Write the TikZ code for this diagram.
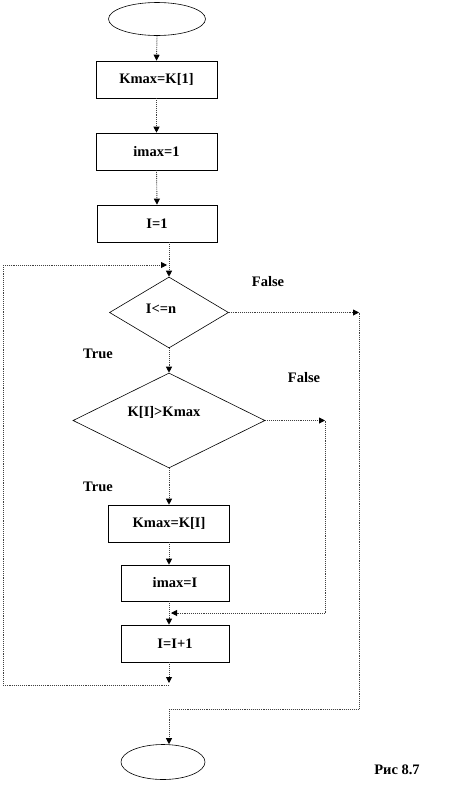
\documentclass[tikz,border=0pt]{standalone}
\usepackage{fontspec}
\setmainfont{Liberation Serif}
\usetikzlibrary{arrows.meta,shapes.geometric}
\begin{document}
\begin{tikzpicture}[x=1pt,y=-1pt,
  every node/.style={font=\fontsize{14.5}{16}\selectfont\bfseries},
  conn/.style={densely dotted, line width=0.9pt, draw=black!75},
  arr/.style={conn, -{Triangle[length=6pt,width=6pt,black]}},
  box/.style={draw=black, line width=0.6pt, rectangle, inner sep=0pt},
  dia/.style={draw=black, line width=0.6pt, diamond, inner sep=0pt},
  term/.style={draw=black, line width=0.6pt, ellipse, inner sep=0pt},
  lbl/.style={inner sep=0pt}]
\useasboundingbox (0,0) rectangle (460,801);
% terminals
\node[term, minimum width=97pt, minimum height=33pt] (s) at (157,19) {};
\node[term, minimum width=84pt, minimum height=35pt] (e) at (163,762) {};
% boxes
\node[box, minimum width=121pt, minimum height=37pt] (b1) at (156.5,79.5) {Kmax=K[1]};
\node[box, minimum width=121pt, minimum height=37pt] (b2) at (156.5,151.5) {imax=1};
\node[box, minimum width=120pt, minimum height=37pt] (b3) at (157,223.5) {I=1};
\node[box, minimum width=121pt, minimum height=37pt] (b4) at (169,523.5) {Kmax=K[I]};
\node[box, minimum width=108pt, minimum height=36pt] (b5) at (175,583) {imax=I};
\node[box, minimum width=108pt, minimum height=37pt] (b6) at (175,643.5) {I=I+1};
% decisions
\node[dia, minimum width=119pt, minimum height=71pt] (d1) at (169,312.5) {};
\node[lbl] (t1) at (161,309) {I<=n};
\node[dia, minimum width=192pt, minimum height=95pt] (d2) at (169,420.5) {};
\node[lbl] (t2) at (164,412) {K[I]>Kmax};
% labels
\node[lbl] (f1) at (268,282) {False};
\node[lbl] (tr1) at (98,354) {True};
\node[lbl] (f2) at (304,378) {False};
\node[lbl] (tr2) at (98,487) {True};
\node[lbl] (cap) at (397,770) {Рис 8.7};
% coordinates
\coordinate (r1) at (359,312.5);
\coordinate (r2) at (359,709);
\coordinate (r3) at (169,709);
\coordinate (q1) at (325,420.5);
\coordinate (q2) at (325,613);
\coordinate (q3) at (171,613);
\coordinate (l0) at (169,683);
\coordinate (l1) at (169,685);
\coordinate (l2) at (3,685);
\coordinate (l3) at (3,265);
\coordinate (l4) at (167,265);
% connectors
\draw[arr] (s.south) -- (b1.north);
\draw[arr] (b1.south) -- (b2.north);
\draw[arr] (b2.south) -- (b3.north);
\draw[arr] (b3.south -| d1.north) -- (d1.north);
\draw[arr] (d1.east) -- (r1);
\draw[conn] (r1) -- (r2) -- (r3);
\draw[arr] (r3) -- (r3 |- e.north);
\draw[arr] (d1.south) -- (d2.north);
\draw[arr] (d2.east) -- (q1);
\draw[conn] (q1) -- (q2);
\draw[arr] (q2) -- (q3);
\draw[arr] (d2.south) -- (b4.north);
\draw[arr] (b4.south) -- (b4.south |- b5.north);
\draw[arr] (b4.south |- b5.south) -- (b4.south |- b6.north);
\draw[arr] (b4.south |- b6.south) -- (l0);
\draw[conn] (l1) -- (l2) -- (l3);
\draw[arr] (l3) -- (l4);
\end{tikzpicture}
\end{document}
